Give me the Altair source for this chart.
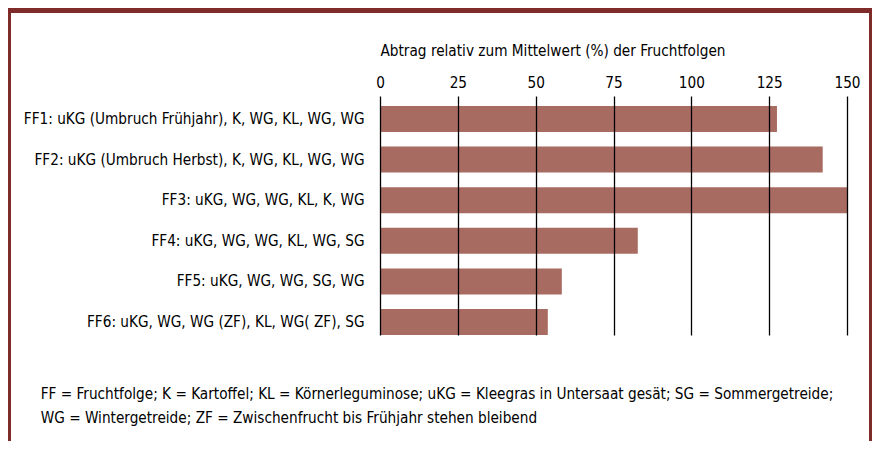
import altair as alt
import pandas as pd

categories = [
    "FF1: uKG (Umbruch Frühjahr), K, WG, KL, WG, WG",
    "FF2: uKG (Umbruch Herbst), K, WG, KL, WG, WG",
    "FF3: uKG, WG, WG, KL, K, WG",
    "FF4: uKG, WG, WG, KL, WG, SG",
    "FF5: uKG, WG, WG, SG, WG",
    "FF6: uKG, WG, WG (ZF), KL, WG( ZF), SG",
]
values = [127.5, 142.2, 150.0, 82.8, 58.4, 53.9]
tick_values = [0, 25, 50, 75, 100, 125, 150]
axis_title = "Abtrag relativ zum Mittelwert (%) der Fruchtfolgen"
footnote = [
    "FF = Fruchtfolge; K = Kartoffel; KL = Körnerleguminose; uKG = Kleegras in Untersaat gesät; SG = Sommergetreide;",
    "WG = Wintergetreide; ZF = Zwischenfrucht bis Frühjahr stehen bleibend",
]

FONT = "DejaVu Sans Condensed, DejaVu Sans, sans-serif"
FS = 15.2
BAR = "#a86b61"
FRAME = "#7f2b2a"

df = pd.DataFrame({"cat": categories, "val": values})

bars = alt.Chart(df).mark_bar(color=BAR).encode(
    y=alt.Y(
        "cat:N",
        sort=categories,
        scale=alt.Scale(paddingInner=0.36, paddingOuter=0.123, align=1),
        axis=alt.Axis(
            title=None, ticks=False, domain=False, grid=False,
            labelPadding=16, labelFontSize=FS, labelFont=FONT,
            labelColor="black", labelLimit=500,
        ),
    ),
    x=alt.X(
        "val:Q",
        scale=alt.Scale(domain=[0, 150], nice=False, zero=True),
        axis=alt.Axis(
            orient="top", values=tick_values, title=axis_title,
            titleAnchor="start", titleAlign="left", titleX=0, titleY=-41,
            titleBaseline="alphabetic", titleFontWeight="normal",
            titleFontSize=FS, titleFont=FONT, titleColor="black",
            grid=True, gridColor="black", gridWidth=1.3, gridOpacity=1,
            domain=False, ticks=False, labelPadding=9,
            labelBaseline="alphabetic", labelFlush=False,
            labelFontSize=FS, labelFont=FONT, labelColor="black", zindex=1,
        ),
    ),
)

one = pd.DataFrame({"k": [0]})
frame_top = alt.Chart(one).mark_rect(color=FRAME).encode(
    x=alt.value(-372), x2=alt.value(492), y=alt.value(-88), y2=alt.value(-83)
)
frame_left = alt.Chart(one).mark_rect(color=FRAME).encode(
    x=alt.value(-372), x2=alt.value(-369), y=alt.value(-88), y2=alt.value(345)
)
frame_right = alt.Chart(one).mark_rect(color=FRAME).encode(
    x=alt.value(489), x2=alt.value(492), y=alt.value(-88), y2=alt.value(345)
)
note = alt.Chart(one).mark_text(
    align="left", baseline="alphabetic", fontSize=FS, font=FONT,
    color="black", lineHeight=24,
).encode(x=alt.value(-339.3), y=alt.value(303.3), text=alt.value(footnote))

chart = (
    alt.layer(bars, frame_top, frame_left, frame_right, note)
    .properties(
        width=467, height=239,
        autosize=alt.AutoSizeParams(type="none"),
        padding={"left": 372, "top": 88, "right": 25, "bottom": 106},
        background="white",
    )
    .configure_view(stroke=None)
)

chart.save("out.html", embed_options={"renderer": "svg", "actions": False})
